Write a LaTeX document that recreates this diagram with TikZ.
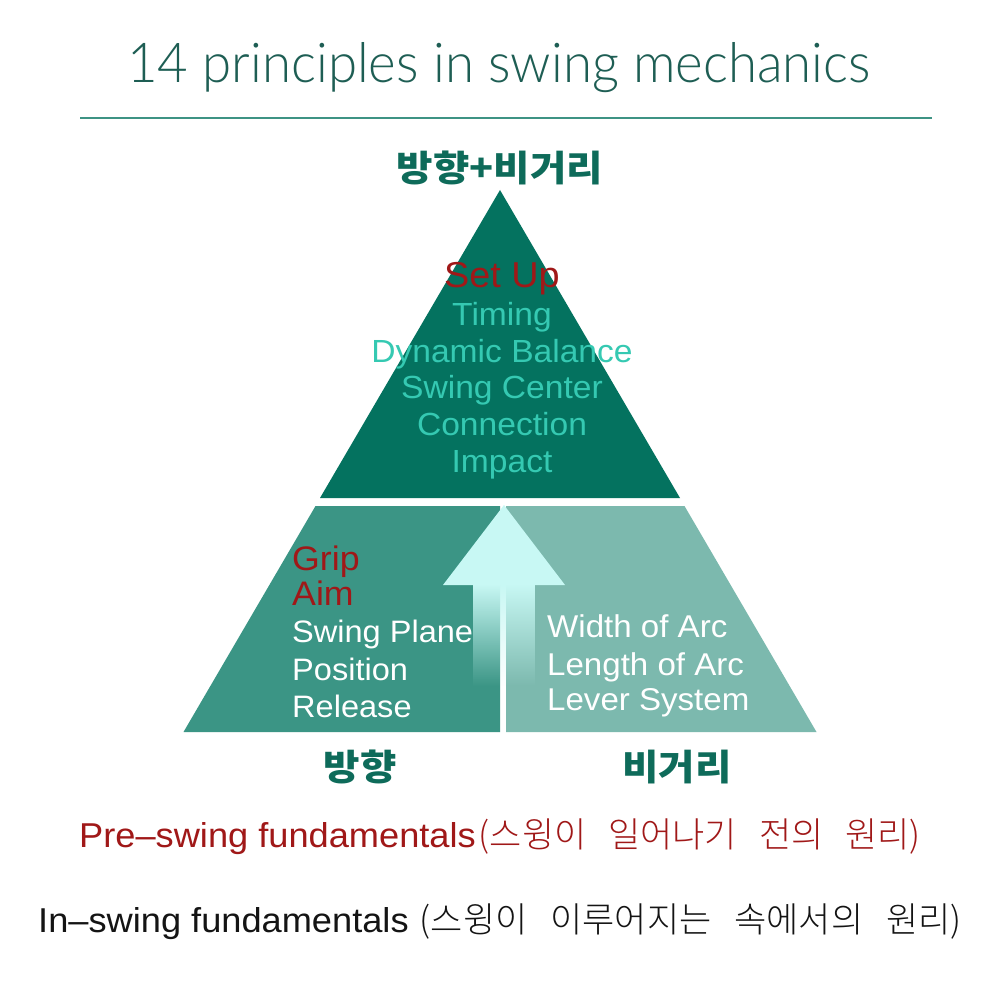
\documentclass[tikz,border=0pt]{standalone}
\usepackage{fontspec}
\setmainfont{Liberation Sans}
\newfontfamily\pyr[FakeStretch=1.05]{Liberation Sans}
\newfontfamily\kr{Noto Sans CJK KR}
\IfFontExistsTF{Noto Sans CJK KR Light}
  {\newfontfamily\krl{Noto Sans CJK KR Light}}
  {\newfontfamily\krl{Noto Sans CJK KR}}
\newfontfamily\krw[FakeStretch=1.1]{Noto Sans CJK KR}
\IfFontExistsTF{Lato Light}
  {\newfontfamily\ttl[FakeStretch=0.96]{Lato Light}}
  {\newfontfamily\ttl[FakeStretch=0.96]{Lato}}
\usetikzlibrary{fadings}
\definecolor{topc}{HTML}{04725F}
\definecolor{leftc}{HTML}{3B9585}
\definecolor{rightc}{HTML}{7CB9AE}
\definecolor{arrc}{HTML}{C8F8F4}
\definecolor{turq}{HTML}{35C9B2}
\definecolor{dred}{HTML}{A01818}
\definecolor{labc}{HTML}{0E6B5A}
\definecolor{titlec}{HTML}{1E5E54}
\definecolor{rulec}{HTML}{3E9384}
\definecolor{inkc}{HTML}{141414}
\tikzfading[name=shaftfade, top color=transparent!0, bottom color=transparent!100]
\tikzset{
  toptxt/.style={anchor=base, text=turq, font=\pyr\fontsize{32}{36}\selectfont, inner sep=0pt},
  redtxt/.style={anchor=base west, text=dred, font=\pyr\fontsize{34}{38}\selectfont, inner sep=0pt},
  whitetxt/.style={anchor=base west, text=white, font=\pyr\fontsize{31}{35}\selectfont, inner sep=0pt},
  rwhitetxt/.style={anchor=base west, text=white, font=\pyr\fontsize{31.5}{35}\selectfont, inner sep=0pt},
  krlab/.style={text=labc, font=\krw\bfseries\fontsize{36}{40}\selectfont, inner sep=0pt},
  latline/.style={anchor=base west, font=\pyr\fontsize{34.5}{38}\selectfont, inner sep=0pt},
  krline/.style={anchor=base east, font=\krl\fontsize{35}{39}\selectfont, inner sep=0pt}
}
\begin{document}
\begin{tikzpicture}[x=1pt,y=-1pt]
\useasboundingbox[fill=white] (0,0) rectangle (1000,1000);
% title
\node[anchor=base, text=titlec, font=\ttl\fontsize{55}{60}\selectfont, inner sep=0pt] (title) at (499,83) {14 principles in swing mechanics};
\coordinate (rl) at (80,118);
\coordinate (rr) at (932,118);
\draw[rulec, line width=1.6pt] (rl) -- (rr);
% pyramid
\fill[topc] (500,190) -- (680,498) -- (320,498) -- cycle;
\fill[leftc] (315.5,506) -- (500,506) -- (500,732) -- (183.5,732) -- cycle;
\fill[rightc] (506,506) -- (684.5,506) -- (816.5,732) -- (506,732) -- cycle;
% arrow
\fill[arrc] (504,505) -- (565,585) -- (443,585) -- cycle;
\fill[arrc, path fading=shaftfade] (473,584.5) rectangle (535,686);
% korean labels
\node[krlab] (both) at (500,168) {방향+비거리};
\node[krlab] (dir) at (360,767) {방향};
\node[krlab] (dist) at (677,767) {비거리};
% top block
\node[anchor=base, text=dred, font=\pyr\fontsize{36}{40}\selectfont, inner sep=0pt] (setup) at (502,287) {Set Up};
\node[toptxt] (timing) at (502,325) {Timing};
\node[toptxt] (dyn) at (502,362) {Dynamic Balance};
\node[toptxt] (sc) at (502,398) {Swing Center};
\node[toptxt] (conn) at (502,435) {Connection};
\node[toptxt] (imp) at (502,472) {Impact};
% left block
\node[redtxt] (grip) at (292,570) {Grip};
\node[redtxt] (aim) at (292,605) {Aim};
\node[whitetxt] (plane) at (292,642) {Swing Plane};
\node[whitetxt] (pos) at (292,680) {Position};
\node[whitetxt] (rel) at (292,717) {Release};
% right block
\node[rwhitetxt] (width) at (547,637) {Width of Arc};
\node[rwhitetxt] (length) at (547,675) {Length of Arc};
\node[rwhitetxt] (lever) at (547,710) {Lever System};
% bottom lines
\node[latline, text=dred] (pre) at (79,847) {Pre–swing fundamentals};
\node[krline, text=dred] (prek) at (921,847) {\makebox[442pt][s]{(스윙이 일어나기 전의 원리)}};
\node[latline, text=inkc] (in) at (38,932) {In–swing fundamentals};
\node[krline, text=inkc] (ink) at (962,932) {\makebox[542pt][s]{(스윙이 이루어지는 속에서의 원리)}};
\end{tikzpicture}
\end{document}
